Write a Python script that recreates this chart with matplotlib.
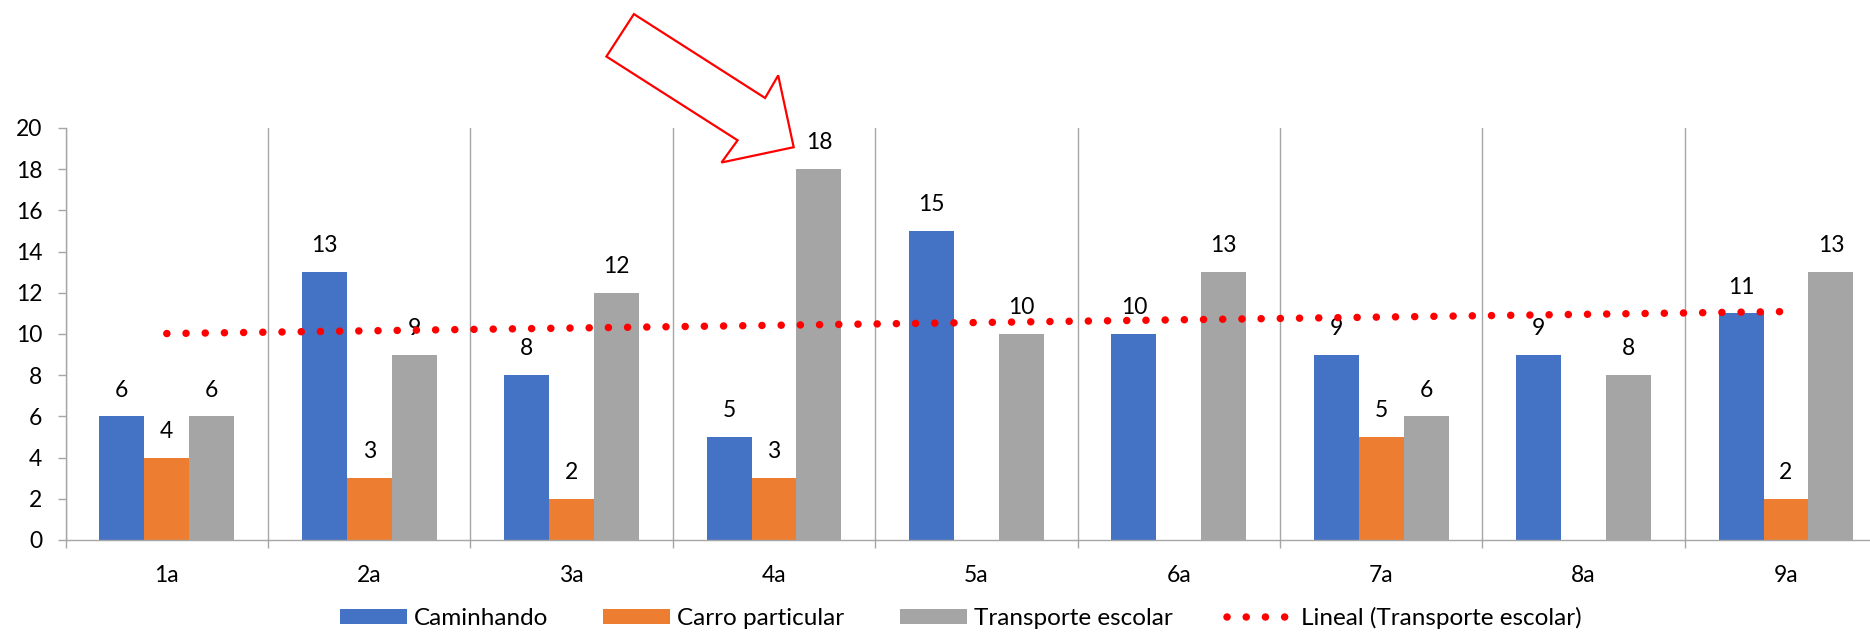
import numpy as np
import matplotlib
matplotlib.use("Agg")
import matplotlib.pyplot as plt
from matplotlib.lines import Line2D
from matplotlib.patches import Polygon

categories = ["1a", "2a", "3a", "4a", "5a", "6a", "7a", "8a", "9a"]
caminhando = [6, 13, 8, 5, 15, 10, 9, 9, 11]
carro_particular = [4, 3, 2, 3, None, None, 5, None, 2]
transporte_escolar = [6, 9, 12, 18, 10, 13, 6, 8, 13]
series_names = ["Caminhando", "Carro particular", "Transporte escolar"]
trend_name = "Lineal (Transporte escolar)"
y_ticks = list(range(0, 21, 2))

colors = ["#4472C4", "#ED7D31", "#A5A5A5"]
grid_color = "#A6A6A6"
FONT = ["Lato", "DejaVu Sans"]
plt.rcParams["font.family"] = FONT

W, H = 1870, 632
fig = plt.figure(figsize=(W / 100, H / 100), dpi=100)
ax = fig.add_axes([65.6 / W, 92 / H, 1821.6 / W, 412 / H])

x = np.arange(len(categories))
bw = 0.222
all_series = [caminhando, carro_particular, transporte_escolar]
for i, (vals, c, name) in enumerate(zip(all_series, colors, series_names)):
    v = np.array([np.nan if a is None else a for a in vals], dtype=float)
    pos = x + (i - 1) * bw
    ax.bar(pos, np.nan_to_num(v), width=bw, color=c, label=name, zorder=2)
    for p, val in zip(pos, v):
        if not np.isnan(val):
            ax.annotate(f"{int(val)}", (p, val), xytext=(0, 19), textcoords="offset points",
                        ha="center", va="center", fontsize=16.5, color="black", zorder=3)

# linear trendline of Transporte escolar
te = np.array(transporte_escolar, dtype=float)
slope, intercept = np.polyfit(x, te, 1)
xt = np.array([x[0], x[-1]])
trend_kw = dict(color="#FF0000", linewidth=5.4, linestyle=(0, (0.01, 2.55)),
                dash_capstyle="round", solid_capstyle="round")
ax.plot(xt, slope * xt + intercept, zorder=4, **trend_kw)

ax.set_xlim(-0.5, len(categories) - 0.5)
ax.set_ylim(0, 20)
ax.set_yticks(y_ticks)
ax.set_xticks(x)
ax.set_xticklabels(categories)
ax.set_xticks(np.arange(-0.5, len(categories), 1.0), minor=True)
ax.tick_params(axis="x", which="major", length=0, pad=18, labelsize=16.5)
ax.tick_params(axis="x", which="minor", length=5.8, color=grid_color, width=1)
ax.tick_params(axis="y", length=5.8, color=grid_color, width=1, pad=11, labelsize=16.5)
ax.grid(axis="x", which="minor", color=grid_color, linewidth=1, zorder=0)
ax.set_axisbelow(True)
for s in ["top", "right"]:
    ax.spines[s].set_visible(False)
for s in ["left", "bottom"]:
    ax.spines[s].set_color(grid_color)
    ax.spines[s].set_linewidth(1)

handles, labels = ax.get_legend_handles_labels()
handles.append(Line2D([0], [0], **trend_kw))
labels.append(trend_name)
fig.legend(handles, labels, loc="center", bbox_to_anchor=(961 / W, 14 / H), ncol=4,
           frameon=False, fontsize=17.5, handlelength=2.76, handleheight=0.62,
           handletextpad=0.29, columnspacing=2.26)

# hollow red arrow annotation
arrow_px = [(633.9, 14.1), (765.1, 98.0), (778.2, 75.4), (793.7, 147.2),
            (721.5, 162.5), (737.6, 140.3), (606.4, 56.5)]
arrow_fig = [(px / W, 1 - py / H) for px, py in arrow_px]
fig.patches.append(Polygon(arrow_fig, closed=True, fill=False, edgecolor="#FF0000",
                           linewidth=1.6, transform=fig.transFigure, figure=fig))

fig.savefig("out.png", dpi=100)
